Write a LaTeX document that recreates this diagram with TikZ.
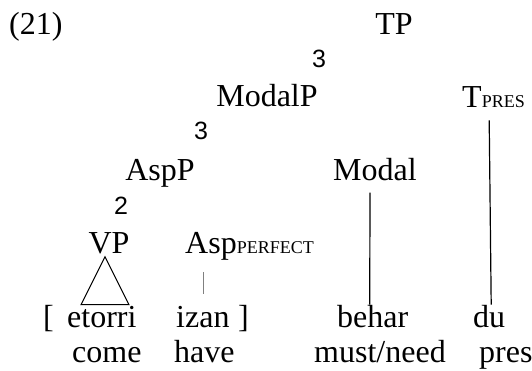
\documentclass[tikz,border=0pt]{standalone}
\usepackage{fontspec}
\setmainfont{Liberation Serif}
\newfontfamily\branchfont{Liberation Sans}
\newcommand{\feat}[1]{{\fontsize{18}{20}\selectfont #1}}
\newcommand{\brn}[1]{{\branchfont\fontsize{25}{27}\selectfont #1}}

\begin{document}
\begin{tikzpicture}[x=1pt,y=-1pt]
		\tikzstyle{every node}=[inner sep=0pt,font=\fontsize{32}{36}\selectfont]
		\tikzstyle{branch}=[draw,line width=1.2pt]

		\useasboundingbox (0,0) rectangle (532,370);

		\node (ex) at (9,34) [anchor=base west] {(21)};
		\node (tp) at (394,34) [anchor=base] {TP};
		\node (b1) at (319,59) {\brn{3}};
		\node (modalp) at (267,106) [anchor=base] {ModalP};
		\node (tpres) at (462,107) [anchor=base west] {T\feat{PRES}};
		\node (b2) at (201,131) {\brn{3}};
		\node (aspp) at (160,180) [anchor=base] {AspP};
		\node (modal) at (375,180) [anchor=base] {Modal};
		\node (b3) at (121,206) {\brn{2}};
		\node (vp) at (109,253) [anchor=base] {VP};
		\node (asp) at (185,253) [anchor=base west] {Asp\feat{PERFECT}};

		\node (lbr) at (43,327) [anchor=base west] {[};
		\node (etorri) at (67,327) [anchor=base west] {etorri};
		\node (izan) at (176,327) [anchor=base west] {izan};
		\node (rbr) at (238,327) [anchor=base west] {]};
		\node (behar) at (337,327) [anchor=base west] {behar};
		\node (du) at (473,327) [anchor=base west] {du};

		\node (come) at (72,362) [anchor=base west] {come};
		\node (have) at (174,362) [anchor=base west] {have};
		\node (need) at (314,362) [anchor=base west] {must/need};
		\node (pres) at (479,362) [anchor=base west] {pres};

		\draw [branch, line width=1pt] ([shift={(-4,3)}]vp.south) -- ++(-24,48) -- ++(48,0) -- cycle;
		\draw [draw=gray, line width=0.6pt] ([yshift=-12]asp.south -| izan.north) -- ([yshift=12]izan.north);
		\draw [branch] ([shift={(-5,12)}]modal.south) -- ([xshift=-3]behar.north);
		\draw [branch] ([yshift=-13]tpres.south -| du.north) -- ([xshift=2]du.north);
	\end{tikzpicture}
\end{document}
